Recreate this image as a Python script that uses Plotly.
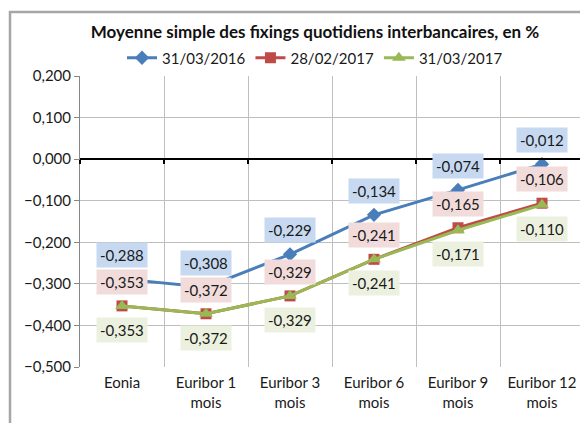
import plotly.graph_objects as go

categories = ["Eonia", "Euribor 1<br>mois", "Euribor 3<br>mois", "Euribor 6<br>mois",
              "Euribor 9<br>mois", "Euribor 12<br>mois"]
s2016 = [-0.288, -0.308, -0.229, -0.134, -0.074, -0.012]
s2017_02 = [-0.353, -0.372, -0.329, -0.241, -0.165, -0.106]
s2017_03 = [-0.353, -0.372, -0.329, -0.241, -0.171, -0.110]
series_names = ["31/03/2016", "28/02/2017", "31/03/2017"]

FONT = "Lato"
x = list(range(len(categories)))

# page body has an 8px margin: figure is 580x415 so it fits the 588x423 window
W, H = 580, 415
OFF = 8
L, T, R = 80 - OFF, 76 - OFF, 4
B = H - (367 - OFF)
PW = W - L - R
PH = H - T - B

series = [
    (series_names[0], s2016, "#4A7EBB", "diamond", 11, "#C6D9F1", 24),
    (series_names[1], s2017_02, "#BE4B48", "square", 11, "#F2DCDB", 24),
    (series_names[2], s2017_03, "#98B954", "triangle-up", 12, "#EBF1DE", -24),
]

fig = go.Figure()
for name, vals, col, sym, ms, bg, shift in series:
    fig.add_trace(go.Scatter(
        x=x, y=vals, name=name, mode="lines+markers",
        line=dict(color=col, width=3),
        marker=dict(symbol=sym, size=ms, color=col),
    ))

# invisible trace to carry the zero-crossing axis
fig.add_trace(go.Scatter(x=x, y=s2016, xaxis="x2", mode="lines",
                         line=dict(width=0), showlegend=False, hoverinfo="skip"))

annotations = []
for name, vals, col, sym, ms, bg, shift in series:
    for xi, v in zip(x, vals):
        annotations.append(dict(
            x=xi, y=v, xref="x", yref="y", text=f"{v:.3f}".replace(".", ","),
            showarrow=False, yshift=shift, bgcolor=bg, borderpad=3,
            font=dict(family=FONT, size=15, color="#1a1a1a"),
        ))

fig.update_layout(
    width=W, height=H,
    margin=dict(l=L, r=R, t=T, b=B, autoexpand=False),
    paper_bgcolor="white", plot_bgcolor="white",
    separators=", ",
    font=dict(family=FONT, size=15, color="#1a1a1a"),
    title=dict(text="<b>Moyenne simple des fixings quotidiens interbancaires, en %</b>",
               x=(315 - OFF) / W, xanchor="center", xref="container",
               y=1 - (32 - OFF) / H, yanchor="middle", yref="container",
               font=dict(family=FONT, size=17, color="#111")),
    legend=dict(orientation="h", x=(315 - OFF) / W, xanchor="center", xref="container",
                y=1 - (58 - OFF) / H, yanchor="middle", yref="container",
                font=dict(family=FONT, size=15), tracegroupgap=0,
                bgcolor="rgba(0,0,0,0)"),
    xaxis=dict(range=[-0.5, 5.5], tickvals=x, ticktext=categories, showgrid=False,
               zeroline=False, showline=False, ticks="", tickfont=dict(size=15),
               ticklabelstandoff=5, automargin=False),
    xaxis2=dict(range=[-0.5, 5.5], overlaying="x", anchor="free", position=0.5 / 0.7,
                side="bottom", tickvals=[-0.5, 0.5, 1.5, 2.5, 3.5, 4.5, 5.5],
                showticklabels=False, showgrid=True, gridcolor="#BFBFBF", gridwidth=1,
                showline=True, linecolor="black", linewidth=2, automargin=False,
                ticks="outside", ticklen=4, tickcolor="black", tickwidth=2, zeroline=False),
    yaxis=dict(range=[-0.5, 0.2], dtick=0.1, tick0=0, tickformat=".3f",
               showgrid=True, gridcolor="#BFBFBF", gridwidth=1, automargin=False,
               zeroline=False, showline=True, linecolor="#868686", linewidth=1,
               ticks="outside", ticklen=5, tickcolor="#868686", tickfont=dict(size=15)),
    annotations=annotations,
    shapes=[dict(type="rect", xref="paper", yref="paper",
                 x0=(10 - OFF - L) / PW, x1=(W + 20 - L) / PW,
                 y0=-(B + 20) / PH, y1=1 + (T - (12 - OFF)) / PH,
                 line=dict(color="#A6A6A6", width=2.5), layer="below")],
)

fig.write_html("out.html")
